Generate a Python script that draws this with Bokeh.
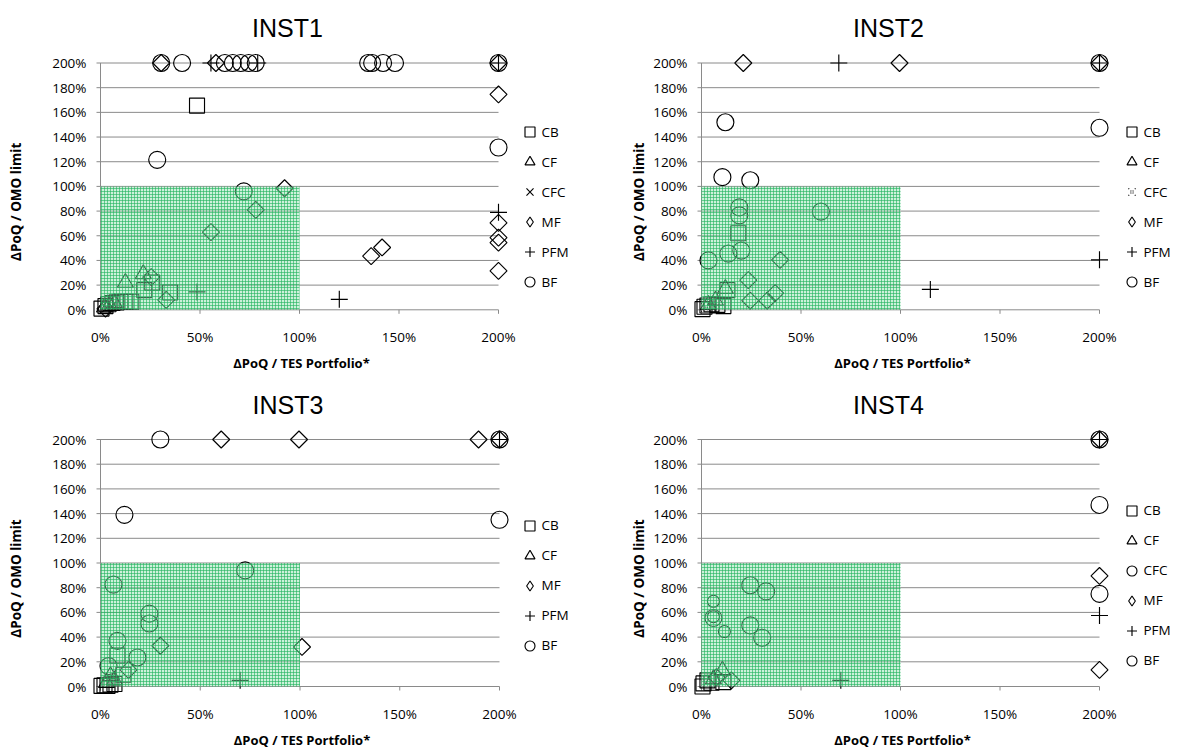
import math
from bokeh.plotting import figure
from bokeh.models import Range1d, Legend, LegendItem, Label, BoxAnnotation
from bokeh.layouts import column, row
from bokeh.embed import file_html
from bokeh.resources import INLINE
from bokeh.core.properties import value

# ---------------- data ----------------
titles = ["INST1", "INST2", "INST3", "INST4"]
x_ticks = [0, 50, 100, 150, 200]
y_ticks = [0, 20, 40, 60, 80, 100, 120, 140, 160, 180, 200]
x_title = "ΔPoQ / TES Portfolio*"
y_title = "ΔPoQ / OMO limit"
safe_zone = [0, 100]   # shaded area limits (%)

inst1_cb_x = [0.5, 2.5, 4, 6, 8, 10, 12.5, 15.5, 22, 26, 35, 48.5]
inst1_cb_y = [1, 3, 4.5, 5.5, 6, 6.5, 6.5, 6.5, 16, 22, 14, 165.5]
inst1_cf_x = [2, 4.5, 7, 12.5, 21.5]
inst1_cf_y = [2, 3.5, 5.5, 22, 29]
inst1_cfc_x = [3, 5.5]
inst1_cfc_y = [1.5, 3]
inst1_mf_x = [2.5, 25.5, 33, 55.5, 78, 92.5, 136, 141.5, 200, 200, 200, 200, 200, 30.5, 58, 200]
inst1_mf_y = [1, 26.5, 8, 63, 81, 98.5, 43.5, 50.5, 174.5, 70.5, 58.5, 54.5, 31.5, 200, 200, 200]
inst1_pfm_x = [48.5, 120, 200, 55.5, 79, 200]
inst1_pfm_y = [14.5, 8.5, 79, 200, 200, 200]
inst1_bf_x = [28.5, 72, 200, 30.5, 41, 62.5, 66.5, 70.5, 74.5, 78, 134.5, 136.5, 142, 148, 200]
inst1_bf_y = [121.5, 96, 131.5, 200, 200, 200, 200, 200, 200, 200, 200, 200, 200, 200, 200]

inst2_cb_x = [0.5, 1.5, 3, 5, 8, 11, 13, 18.5]
inst2_cb_y = [0.5, 2.5, 3.5, 4.5, 4, 3, 16, 62]
inst2_cf_x = [3.5, 7, 12]
inst2_cf_y = [4, 7.5, 17]
inst2_cfc_x = [2, 5]
inst2_cfc_y = [2, 5]
inst2_mf_x = [21, 99.5, 200, 23.5, 39.5, 24.5, 33, 37]
inst2_mf_y = [200, 200, 200, 24, 40.5, 7.5, 7.5, 13.5]
inst2_pfm_x = [69, 200, 200, 115]
inst2_pfm_y = [200, 200, 40.5, 16.5]
inst2_bf_x = [200, 200, 12, 10.5, 24.5, 19, 19, 60, 13.5, 20, 3.5]
inst2_bf_y = [200, 147.5, 152, 107.5, 105, 83, 76.5, 79.5, 45.5, 48, 40]

inst3_cb_x = [0.5, 2, 3.5, 5, 7, 8.5, 11.5]
inst3_cb_y = [0.5, 1, 0.5, 1.5, 2, 25, 9.5]
inst3_cf_x = [3, 5, 7]
inst3_cf_y = [3, 8.5, 5]
inst3_mf_x = [60.5, 99.5, 189.5, 200, 101, 30, 14]
inst3_mf_y = [200, 200, 200, 200, 32, 33, 13.5]
inst3_pfm_x = [200, 70]
inst3_pfm_y = [200, 5]
inst3_bf_x = [30, 200, 200, 12, 72.5, 6.5, 24.5, 24.5, 8.5, 18.5, 4]
inst3_bf_y = [200, 200, 135, 139, 94, 82.5, 59, 51, 37, 23.5, 16.5]

inst4_cb_x = [0.5, 1, 3, 5, 11]
inst4_cb_y = [0, 2.5, 5, 3, 3.5]
inst4_cf_x = [6, 10.5]
inst4_cf_y = [6, 13]
inst4_cfc_x = [6, 6, 11.5]
inst4_cfc_y = [69, 56.5, 44.5]
inst4_mf_x = [7.5, 15, 200, 200, 200]
inst4_mf_y = [7.5, 5, 200, 89.5, 13.5]
inst4_pfm_x = [70, 200, 200]
inst4_pfm_y = [5, 200, 57.5]
inst4_bf_x = [24.5, 32.5, 6, 24.5, 30.5, 200, 200, 200]
inst4_bf_y = [82, 77, 55.5, 49.5, 39.5, 200, 147, 75]

# ---------------- styles ----------------
STYLE = {
    "CB": dict(marker="square", size=15, angle=0),
    "CF": dict(marker="triangle", size=16, angle=0),
    "MF": dict(marker="square", size=12, angle=math.pi / 4),
    "PFM": dict(marker="cross", size=17, angle=0),
    "BF": dict(marker="circle", size=17, angle=0),
}
CFC_STYLE = {
    "x": dict(marker="x", size=12, angle=0),
    "dots": dict(marker="x", size=12, angle=0, line_dash="1 2"),
    "circle": dict(marker="circle", size=12, angle=0),
}
LEGEND_MARKER = {"MF": "diamond"}   # legend swatch for rotated squares

FONT = "Open Sans"
GRID = "#8a8a8a"
TICK_FS = "13.5px"
MARK_W = 1.15
GLYPH = 25
GAP = 5
PAD = 10


def make_panel(title, series, fx, fy, W, H, x0p, x200p, y0p, y200p,
               legend_cx, legend_cy, ytitle_off):
    # pixel geometry of the plot area inside this figure
    x0, x200 = x0p - fx, x200p - fx
    y0, y200 = y0p - fy, y200p - fy
    sx = (x200 - x0) / (x_ticks[-1] - x_ticks[0])
    sy = (y0 - y200) / (y_ticks[-1] - y_ticks[0])

    def dx(px):
        return px / sx

    def dy(px):
        return px / sy

    p = figure(width=W, height=H,
               x_range=Range1d(-x0 / sx, (W - x0) / sx),
               y_range=Range1d((y0 - H) / sy, y0 / sy),
               output_backend="svg", toolbar_location=None,
               x_axis_location=None, y_axis_location=None, min_border=0)
    p.outline_line_color = None
    p.grid.visible = False
    p.background_fill_color = "white"
    p.border_fill_color = "white"

    xmin, xmax = x_ticks[0], x_ticks[-1]
    ymin, ymax = y_ticks[0], y_ticks[-1]

    # gridlines (+ left tick marks) and axis lines
    p.segment(x0=xmin - dx(4), x1=xmax, y0=y_ticks, y1=y_ticks, line_color=GRID, line_width=1)
    p.segment(x0=[xmin], x1=[xmin], y0=[ymin - dy(4)], y1=[ymax], line_color=GRID, line_width=1)
    p.segment(x0=x_ticks, x1=x_ticks, y0=ymin, y1=ymin - dy(4), line_color=GRID, line_width=1)

    # tick labels
    p.text(x=xmin - dx(14), y=y_ticks, text=[f"{t}%" for t in y_ticks],
           text_font=value(FONT), text_font_size=value(TICK_FS), text_color="black",
           text_align="right", text_baseline="middle")
    p.text(x=x_ticks, y=ymin - dy(27), text=[f"{t}%" for t in x_ticks],
           text_font=value(FONT), text_font_size=value(TICK_FS), text_color="black",
           text_align="center", text_baseline="middle")

    items = []
    for name, xs, ys, st in series:
        r = p.scatter(x=xs, y=ys, fill_color=None, line_color="black", line_width=MARK_W, **st)
        if name in LEGEND_MARKER:
            swatch = dict(st)
            swatch["marker"] = LEGEND_MARKER[name]
            swatch["angle"] = 0
            # legend-only swatch: one undrawable (NaN) row
            r_leg = p.scatter(x=[math.nan], y=[math.nan], fill_color=None, line_color="black",
                              line_width=MARK_W, **swatch)
            items.append(LegendItem(label=name, renderers=[r_leg]))
        else:
            items.append(LegendItem(label=name, renderers=[r]))

    p.add_layout(BoxAnnotation(left=safe_zone[0], right=safe_zone[1],
                               bottom=safe_zone[0], top=safe_zone[1],
                               fill_color="#8fe0ad", fill_alpha=0.45,
                               hatch_pattern="+", hatch_color="#1fb25a", hatch_alpha=0.75,
                               hatch_scale=3, hatch_weight=0.8,
                               line_color=None))

    n = len(items)
    leg_h = 2 * PAD + n * GLYPH + (n - 1) * GAP
    leg_left = legend_cx - fx - PAD - GLYPH / 2
    leg_top = legend_cy - fy - PAD - GLYPH / 2
    legend = Legend(items=items,
                    location=(leg_left + 10, H - leg_top - leg_h + 10),
                    glyph_width=GLYPH, glyph_height=GLYPH, label_standoff=0, spacing=GAP,
                    padding=PAD, margin=0, border_line_color=None, background_fill_alpha=0,
                    label_text_font=FONT, label_text_font_size="13.5px",
                    label_text_color="black", label_height=20)
    p.add_layout(legend)

    # titles
    p.add_layout(Label(x=(xmin + xmax) / 2 - dx(12), y=ymin + dy(281.5), text=title,
                       text_align="center", text_baseline="alphabetic",
                       text_font="Liberation Sans", text_font_size="25px", text_color="black"))
    p.add_layout(Label(x=xmin - dx(ytitle_off), y=ymin + dy(108), text=y_title,
                       angle=math.pi / 2, text_align="center", text_baseline="middle",
                       text_font=FONT, text_font_size="13.5px", text_font_style="bold",
                       text_color="black"))
    p.add_layout(Label(x=(xmin + xmax) / 2 + dx(2), y=ymin - dy(53), text=x_title,
                       text_align="center", text_baseline="middle",
                       text_font=FONT, text_font_size="13px", text_font_style="bold",
                       text_color="black"))
    return p


p1 = make_panel(titles[0], [
    ("CB", inst1_cb_x, inst1_cb_y, STYLE["CB"]),
    ("CF", inst1_cf_x, inst1_cf_y, STYLE["CF"]),
    ("CFC", inst1_cfc_x, inst1_cfc_y, CFC_STYLE["x"]),
    ("MF", inst1_mf_x, inst1_mf_y, STYLE["MF"]),
    ("PFM", inst1_pfm_x, inst1_pfm_y, STYLE["PFM"]),
    ("BF", inst1_bf_x, inst1_bf_y, STYLE["BF"]),
], 0, 0, 609, 385, 100, 498, 309.3, 62.5, 529, 131.5, 85)

p2 = make_panel(titles[1], [
    ("CB", inst2_cb_x, inst2_cb_y, STYLE["CB"]),
    ("CF", inst2_cf_x, inst2_cf_y, STYLE["CF"]),
    ("CFC", inst2_cfc_x, inst2_cfc_y, CFC_STYLE["dots"]),
    ("MF", inst2_mf_x, inst2_mf_y, STYLE["MF"]),
    ("PFM", inst2_pfm_x, inst2_pfm_y, STYLE["PFM"]),
    ("BF", inst2_bf_x, inst2_bf_y, STYLE["BF"]),
], 609, 0, 568, 385, 701, 1099, 309.3, 62.5, 1131, 131.5, 63)

p3 = make_panel(titles[2], [
    ("CB", inst3_cb_x, inst3_cb_y, STYLE["CB"]),
    ("CF", inst3_cf_x, inst3_cf_y, STYLE["CF"]),
    ("MF", inst3_mf_x, inst3_mf_y, STYLE["MF"]),
    ("PFM", inst3_pfm_x, inst3_pfm_y, STYLE["PFM"]),
    ("BF", inst3_bf_x, inst3_bf_y, STYLE["BF"]),
], 0, 385, 609, 367, 100, 499, 686, 439, 529, 525, 85)

p4 = make_panel(titles[3], [
    ("CB", inst4_cb_x, inst4_cb_y, STYLE["CB"]),
    ("CF", inst4_cf_x, inst4_cf_y, STYLE["CF"]),
    ("CFC", inst4_cfc_x, inst4_cfc_y, CFC_STYLE["circle"]),
    ("MF", inst4_mf_x, inst4_mf_y, STYLE["MF"]),
    ("PFM", inst4_pfm_x, inst4_pfm_y, STYLE["PFM"]),
    ("BF", inst4_bf_x, inst4_bf_y, STYLE["BF"]),
], 609, 385, 568, 367, 701, 1099, 686, 439, 1131, 510, 63)

layout = column(row(p1, p2), row(p3, p4))
open("out.html", "w").write(file_html(layout, INLINE))
